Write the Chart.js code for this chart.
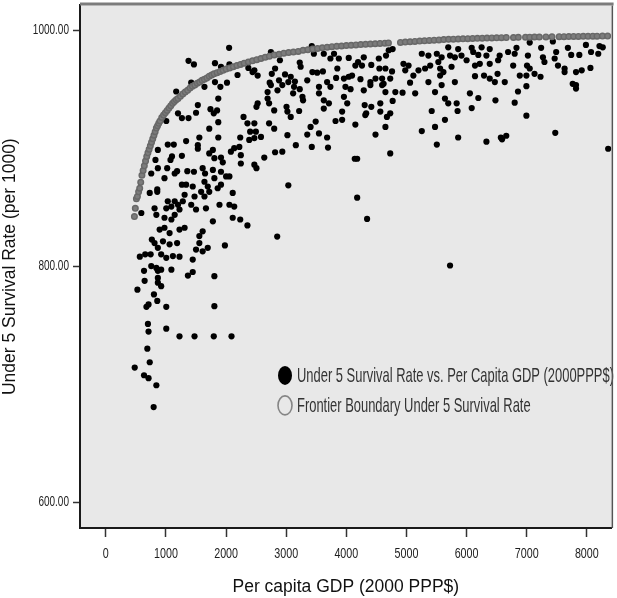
<!DOCTYPE html>
<html>
<head>
<meta charset="utf-8">
<script src="https://cdn.jsdelivr.net/npm/chart.js@4"></script>
<style>
  body { margin: 0; background: #fff; }
  #wrap { width: 617px; height: 598px; position: relative; }
</style>
</head>
<body>
<div id="wrap"><canvas id="out"></canvas></div>
<script>
// tick values shown on the axes
const xTicks = [0, 1000, 2000, 3000, 4000, 5000, 6000, 7000, 8000];
const yTicks = [600, 800, 1000];

const survivalLabel = "Under 5 Survival Rate vs. Per Capita GDP (2000PPP$)";
const frontierLabel = "Frontier Boundary Under 5 Survival Rate";

// [per capita GDP, under 5 survival rate]
const survivalPoints = [
  [2050,985],[1375,974],[1465,971],[1815,972],[1915,969],[2055,971],[2370,968],[2440,964.5],[2190,962],
  [1420,955.5],[1815,956],[2015,955.5],[1640,952],[1905,952],[1170,948],[1870,942],[1530,936.5],[1740,933],
  [1850,932],[1200,929.5],[1265,925.5],[1375,925.5],[1500,930],[1795,929.5],[1870,922],[2290,926.5],[2355,921],
  [2400,914],[1005,923],[1720,916.5],[1555,909],[1870,909],[2235,909],[2385,907],[1335,906],[1030,903],
  [1130,903],[1530,902.5],[1530,899.5],[1780,898.5],[865,898.5],[2135,900],[2080,897],[2220,901],[1100,893],
  [1265,893.5],[1075,890],[1720,895.5],[1915,892],[1805,891.5],[1945,888],[2245,894],[2245,887],[825,890],
  [865,883],[1020,883],[1185,880.5],[1355,880.5],[1465,880],[1610,883],[1650,878.5],[1780,881.5],[1915,880],
  [2000,876],[2055,876],[1805,874.5],[1640,871.5],[1915,869],[975,874.5],[1265,869],[1335,869],[1145,878.5],
  [855,865],[755,878.5],[1445,867.5],[1695,867.5],[1860,866],
  [730,862],[855,863],[1585,863],[1720,863],[2110,862],[1310,860.5],[1475,859],[1640,859],[1030,855],
  [1145,855],[1280,855],[1420,852],[810,849],[1005,849],[1090,850.5],[1200,852],[1500,848],[1665,849],
  [1890,852],[2055,852],[2135,850.5],[590,845],[840,843.5],[975,841],[1090,839.5],[1145,843.5],[1225,848],
  [2110,841],[2235,839.5],[2355,834.5],[1780,838],[895,831],[975,832.5],[1060,828],[1225,831],[1310,832.5],
  [1610,829.5],[1555,825.5],[765,822.5],[810,819.5],[950,821],[1060,818.5],[1185,819.5],[1555,819.5],[865,815.5],
  [1695,815.5],[1610,812.5],[1500,814],[1980,817.5],[565,808],[655,810],[745,810],[920,810],[1005,807],
  [1115,808.5],[1225,808],[1445,805.5],[755,800],[840,798.5],[920,797],[635,796],[865,796],[1090,797],
  [1365,792],[1445,795],[1805,791.5],[645,787.5],[865,790],[865,786],[920,783],[525,780],[800,776],
  [710,767.5],[675,765.5],[855,770.5],[1005,765.5],[1805,766],[700,751],[710,744.5],[1005,747],[1225,740.5],
  [1475,740.5],[1795,740.5],[2090,740.5],[690,730],[730,718.5],[480,714],[635,707.5],[710,705],[840,699],
  [795,680.5],[2850,825],[4180,858],[4345,840],[5725,800.5],
  [3425,986.5],[2745,981.5],[2895,974.5],[3460,980],[3625,980],[3795,980],[3735,976],[3875,976],[4040,976.5],
  [4290,977],[4540,976],[4660,978.5],[4705,983],[4770,984],[3225,972.5],[3240,969],[3435,964.5],[3515,964],
  [3610,965],[3850,967.5],[4150,970],[4195,973],[4260,970],[4415,970.5],[4550,967.5],[4650,967.5],[4760,965],
  [4950,971.5],[2470,966],[2525,961.5],[2760,963],[2815,967.5],[2980,962.5],[3075,960.5],[2880,957.5],[3035,956],
  [3145,956.5],[2725,955.5],[3350,957.5],[3680,956],[3830,959.5],[3960,959],[4040,960.5],[4095,961.5],[4235,958.5],
  [4400,956],[4485,959],[4595,959],[4620,954.5],[4730,959],[5035,970],[4980,966],[5255,980],[5365,978.5],
  [5310,967.5],[5200,966],[5115,961.5],[5060,955.5],[5365,956],[5395,970],[2745,953.5],[2855,949],[2935,953.5],
  [3130,952],[3225,950],[3115,946.5],[3545,952],[3735,952],[3545,946.5],[3985,952],[4070,950],[4290,949],
  [4400,953.5],[4595,953.5],[4650,947.5],[4815,947.5],[4935,947],[5145,946.5],[2690,947.5],[2690,942],[2715,938],
  [2525,938],[2505,935],[2800,932],[3005,935],[3280,940.5],[3270,943.5],[3625,940.5],[3710,938],[3960,943.5],
  [4015,938],[4305,936.5],[4330,929.5],[4415,935],[4565,938],[4770,940],[3625,933.5],[3020,931],[3075,926.5],
  [3215,931.5],[3930,931],[4315,928],[4565,931],[4675,926.5],[4730,929.5],[5420,931.5],[2470,921],[2495,914],
  [2715,921],[2800,916.5],[2580,909.5],[2470,908.5],[3820,923],[3930,924],[3490,922.5],[3405,918],[4150,920],
  [4650,918],[3020,911],[3350,911.5],[3545,912.5],[3680,909],[4485,911.5],[5255,914.5],[3160,902.5],[3425,901],
  [3695,900.5],[2815,896.5],[2935,897],[2635,892],[4140,891],[4180,891],[4730,895.5],[2470,886],[2505,883],
  [3035,868.5],
  [7050,989.5],[7435,990.5],[5695,985.5],[5860,984],[6085,985],[6250,985.5],[6385,984],[6830,985],[7240,985],
  [7685,985],[7985,987.5],[8210,986.5],[8265,985.5],[5505,980],[5585,977],[5725,978.5],[5915,978.5],[6110,981.5],
  [6195,979],[6330,978.5],[6550,978.5],[6690,981.5],[6800,980],[7020,978.5],[7270,977],[7490,981.5],[7740,979],
  [7875,979],[8070,981.5],[8190,980],[5805,977],[6000,974.5],[6220,971.5],[6525,974.5],[7295,973],[7465,976],
  [7520,970],[7630,967.5],[5530,973],[5560,967.5],[5615,964.5],[5560,961.5],[5750,969],[6140,970],[6385,971.5],
  [6775,970],[7005,970],[7050,967.5],[7130,963],[7230,960.5],[7630,964.5],[7820,964.5],[7915,966],[8060,968],
  [5585,953.5],[5805,956],[6140,961],[6290,961.5],[6385,959],[6470,956],[6515,963],[6635,956],[6885,961.5],
  [6995,961.5],[7765,954.5],[7820,953.5],[7820,950.5],[5475,947.5],[6855,948],[6995,952.5],[6055,946.5],[5640,942],
  [6195,942.5],[6480,940.5],[5695,938],[5835,938],[6085,934],[6800,938.5],[5850,931.5],[6995,927.5],[5640,924],
  [5475,918],[5860,909],[6330,905.5],[6570,909],[6660,910.5],[6590,907.5],[7475,913],[5505,903],[8355,899.5]
];

// frontier boundary
const frontierPoints = [
  [475,842],[490,849],[508,857],[525,859],[545,863],[563,866],[580,871],[600,877],[620,881],[640,885],
  [660,889],[680,893],[700,896],[720,899],[740,902],[760,905],[780,908],[800,911],[820,914],[840,917],
  [860,919],[880,921],[900,923],[930,926],[960,928],[990,930],[1020,932],[1050,934],[1080,936],[1110,938],
  [1140,939.5],[1170,941],[1200,942],[1240,944],[1280,946],[1320,947.5],[1360,949],[1400,951],[1440,952.5],
  [1480,953.5],[1520,955],[1560,956],[1600,957.5],[1640,958.5],[1680,959.5],[1720,961],[1760,962],[1800,963],
  [1850,964],[1900,965],[1950,966],[2000,967],[2060,968],[2120,969],[2180,970],[2240,971],[2300,972],
  [2370,973],[2440,974],[2510,975],[2580,976],[2650,977],[2720,978],[2800,979],[2880,979.5],[2960,980.5],
  [3040,981],[3120,981.5],[3200,982],[3280,983],[3360,983.5],[3440,984],[3520,984.5],[3600,985],[3680,985.5],
  [3760,986],[3840,986.3],[3920,986.6],[4000,987],[4080,987.2],[4160,987.5],[4240,987.8],[4320,988],
  [4400,988.3],[4480,988.5],[4560,988.8],[4640,989],[4700,989.2],[4900,989.6],[4980,989.9],[5060,990.2],
  [5140,990.5],[5220,990.8],[5300,991],[5380,991.3],[5460,991.5],[5540,991.7],[5620,992],[5700,992.2],
  [5780,992.4],[5860,992.5],[5940,992.7],[6020,992.8],[6100,993],[6180,993.1],[6260,993.2],[6340,993.3],
  [6420,993.4],[6500,993.5],[6580,993.6],[6660,993.7],[6780,993.8],[6860,993.9],[6980,994],[7050,994.1],
  [7130,994.2],[7210,994.2],[7320,994.3],[7420,994.4],[7540,994.5],[7620,994.5],[7700,994.6],[7780,994.7],
  [7860,994.7],[7940,994.8],[8020,994.8],[8100,994.9],[8170,994.9],[8260,995],[8346,995]
];

const plainFont = "'Liberation Sans', Arial, sans-serif";

// grey plot background plus the top / right frame
const plotFrame = {
  id: "plotFrame",
  beforeDraw(chart) {
    const {ctx, chartArea: a} = chart;
    ctx.save();
    ctx.fillStyle = "#e8e8e8";
    ctx.fillRect(a.left, a.top, a.right - a.left, a.bottom - a.top);
    ctx.restore();
  },
  afterDraw(chart) {
    const {ctx, chartArea: a} = chart;
    ctx.save();
    ctx.strokeStyle = "#7c7c7c";
    ctx.lineWidth = 3;
    ctx.beginPath();
    ctx.moveTo(a.left, a.top - 1.5);
    ctx.lineTo(a.right + 2, a.top - 1.5);
    ctx.stroke();
    ctx.strokeStyle = "#555";
    ctx.lineWidth = 1.5;
    ctx.beginPath();
    ctx.moveTo(a.right + 0.75, a.top);
    ctx.lineTo(a.right + 0.75, a.bottom);
    ctx.stroke();
    ctx.restore();
  }
};

// tall, narrow tick labels like the SPSS export
const narrowTicks = {
  id: "narrowTicks",
  afterDraw(chart) {
    const {ctx, chartArea: a, scales} = chart;
    ctx.save();
    ctx.fillStyle = "#1e1e1e";
    ctx.font = "14.5px " + plainFont;
    ctx.textBaseline = "middle";
    xTicks.forEach(v => {
      ctx.save();
      ctx.translate(scales.x.getPixelForValue(v), a.bottom + 26);
      ctx.scale(0.74, 1);
      ctx.textAlign = "center";
      ctx.fillText(String(v), 0, 0);
      ctx.restore();
    });
    yTicks.forEach(v => {
      ctx.save();
      ctx.translate(a.left - 11, scales.y.getPixelForValue(v));
      ctx.scale(0.69, 1);
      ctx.textAlign = "right";
      ctx.fillText(v.toFixed(2), 0, 0);
      ctx.restore();
    });
    ctx.restore();
  }
};

// legend sits inside the plot, like the SPSS one
const innerLegend = {
  id: "innerLegend",
  afterDatasetsDraw(chart) {
    const {ctx, chartArea: a} = chart;
    const mx = a.left + 205;
    const rows = [a.top + 370, a.top + 400];
    ctx.save();
    ctx.font = "21px " + plainFont;
    const sx = 317 / ctx.measureText(survivalLabel).width;
    chart.data.datasets.slice().reverse().forEach((ds, i) => {
      const y = rows[i];
      ctx.beginPath();
      ctx.ellipse(mx, y, 7, 9.5, 0, 0, Math.PI * 2);
      if (ds.legendFilled) {
        ctx.fillStyle = "#000";
        ctx.fill();
      } else {
        ctx.fillStyle = "#e8e8e8";
        ctx.fill();
        ctx.lineWidth = 1.6;
        ctx.strokeStyle = "#858585";
        ctx.stroke();
      }
      ctx.save();
      ctx.translate(mx + 12, y + 1);
      ctx.scale(sx, 1);
      ctx.fillStyle = "#333";
      ctx.textBaseline = "middle";
      ctx.fillText(ds.label, 0, 0);
      ctx.restore();
    });
    ctx.restore();
  }
};

const canvasCtx = document.getElementById("out").getContext("2d");

const chartConfig = {
  type: "scatter",
  data: {
    datasets: [
      {
        label: frontierLabel,
        data: frontierPoints.map(p => ({x: p[0], y: p[1]})),
        pointRadius: 2.8,
        borderWidth: 1.4,
        borderColor: "#686868",
        backgroundColor: "#7c7c7c",
        order: 0,
        legendFilled: false
      },
      {
        label: survivalLabel,
        data: survivalPoints.map(p => ({x: p[0], y: p[1]})),
        pointRadius: 3.1,
        borderWidth: 0,
        backgroundColor: "#000",
        order: 1,
        legendFilled: true
      }
    ]
  },
  options: {
    responsive: true,
    maintainAspectRatio: false,
    animation: false,
    layout: {padding: {top: 3, right: 3, left: 0, bottom: 0}},
    plugins: {
      legend: {display: false},
      tooltip: {enabled: false}
    },
    scales: {
      x: {
        type: "linear",
        min: -430,
        max: 8412,
        afterBuildTicks: axis => { axis.ticks = xTicks.map(v => ({value: v})); },
        afterFit: axis => { axis.height = 70; },
        grid: {drawOnChartArea: false, drawTicks: true, tickLength: 9, tickColor: "#333", tickWidth: 1.5},
        border: {display: true, color: "#1a1a1a", width: 2},
        ticks: {display: false},
        title: {
          display: true,
          text: "Per capita GDP (2000 PPP$)",
          color: "#111",
          font: {family: plainFont, size: 17.5},
          padding: {top: 0, bottom: 0}
        }
      },
      y: {
        type: "linear",
        min: 578,
        max: 1021,
        afterBuildTicks: axis => { axis.ticks = yTicks.map(v => ({value: v})); },
        afterFit: axis => { axis.width = 80; },
        grid: {drawOnChartArea: false, drawTicks: true, tickLength: 7, tickColor: "#333", tickWidth: 1.5},
        border: {display: true, color: "#1a1a1a", width: 2},
        ticks: {display: false},
        title: {
          display: true,
          text: "Under 5 Survival Rate (per 1000)",
          color: "#111",
          font: {family: plainFont, size: 17.5},
          padding: {top: 0, bottom: 0}
        }
      }
    }
  },
  plugins: [plotFrame, narrowTicks, innerLegend]
};

window.chart = new Chart(canvasCtx, chartConfig);
</script>
</body>
</html>
